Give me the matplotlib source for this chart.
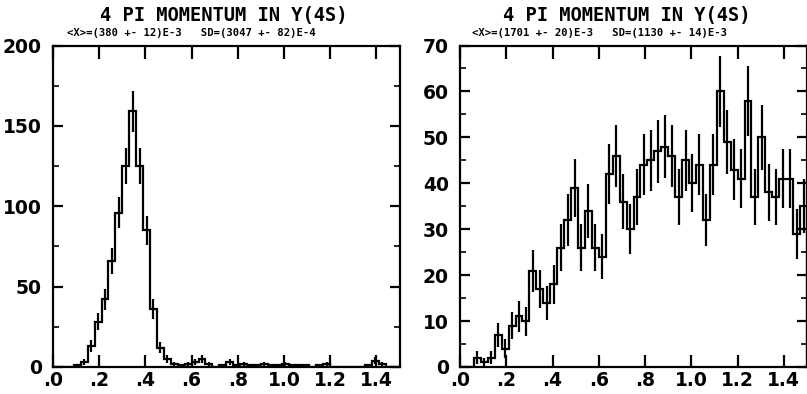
import numpy as np
import matplotlib
matplotlib.use("Agg")
import matplotlib.pyplot as plt
from matplotlib.ticker import MultipleLocator, FixedLocator

# ---------------- data ----------------
bin_edges = np.round(np.arange(0, 1.5001, 0.03), 3)

left_counts = [0, 0, 0, 1, 3, 13, 28, 42, 66, 96,
               125, 159, 125, 85, 36, 12, 5, 2, 1, 2,
               3, 5, 2, 0, 1, 3, 1, 2, 1, 1,
               2, 1, 1, 2, 1, 1, 1, 0, 1, 2,
               0, 0, 0, 0, 0, 1, 4, 2, 0, 0]

right_counts = [0, 0, 2, 1, 2, 7, 4, 9, 11, 10,
                21, 17, 14, 18, 26, 32, 39, 26, 34, 26,
                24, 42, 46, 36, 30, 37, 44, 45, 47, 48,
                46, 37, 45, 40, 44, 32, 44, 60, 49, 43,
                41, 58, 37, 50, 38, 37, 41, 41, 29, 35]

title_text = "4 PI MOMENTUM IN Y(4S)"
left_stats = "<X>=(380 +- 12)E-3   SD=(3047 +- 82)E-4"
right_stats = "<X>=(1701 +- 20)E-3   SD=(1130 +- 14)E-3"

xtick_vals = [0.0, 0.2, 0.4, 0.6, 0.8, 1.0, 1.2, 1.4]
xtick_labels = [".0", ".2", ".4", ".6", ".8", "1.0", "1.2", "1.4"]
left_yticks = [0, 50, 100, 150, 200]
right_yticks = [0, 10, 20, 30, 40, 50, 60, 70]

# ---------------- figure ----------------
W, H = 807, 394
fig = plt.figure(figsize=(W / 100, H / 100), dpi=100)
fig.patch.set_facecolor("white")


def px_axes(x0, x1, y0, y1):
    return fig.add_axes([x0 / W, 1 - y1 / H, (x1 - x0) / W, (y1 - y0) / H])


axL = px_axes(53, 399.5, 45.5, 367)
axR = px_axes(460, 807, 45.5, 367)

lw = 1.6
for ax, counts, ymax, yticks, yminor in (
    (axL, left_counts, 200, left_yticks, 25),
    (axR, right_counts, 70, right_yticks, 5),
):
    c = np.array(counts, dtype=float)
    centers = 0.5 * (bin_edges[:-1] + bin_edges[1:])
    ax.stairs(c, bin_edges, color="black", linewidth=1.6, baseline=0)
    m = c > 0
    ax.errorbar(centers[m], c[m], yerr=np.sqrt(c[m]), fmt="none",
                ecolor="black", elinewidth=1.6, capsize=0)
    ax.set_xlim(0, 1.5)
    ax.set_ylim(0, ymax)
    ax.xaxis.set_major_locator(FixedLocator(xtick_vals))
    ax.set_xticklabels(xtick_labels)
    ax.yaxis.set_major_locator(FixedLocator(yticks))
    ax.yaxis.set_minor_locator(MultipleLocator(yminor))
    ax.tick_params(axis="x", which="major", direction="in", length=9, width=1.6,
                   top=True, labelsize=13.5, pad=3)
    ax.tick_params(axis="y", which="major", direction="in", length=7, width=1.6,
                   right=True, labelsize=13.5, pad=8)
    ax.tick_params(which="minor", direction="in", length=4, width=1.2,
                   left=True, right=True)
    for lab in ax.get_xticklabels() + ax.get_yticklabels():
        lab.set_fontweight("bold")
        lab.set_family("DejaVu Sans")
    for s in ax.spines.values():
        s.set_linewidth(lw)
    ax.set_facecolor("white")

# titles
fig.text(224 / W, 1 - 15 / H, title_text, ha="center", va="center",
         fontsize=13.5, fontweight="bold", family="DejaVu Sans Mono")
fig.text(627 / W, 1 - 15 / H, title_text, ha="center", va="center",
         fontsize=13.5, fontweight="bold", family="DejaVu Sans Mono")
fig.text(191 / W, 1 - 33 / H, left_stats, ha="center", va="center",
         fontsize=7.6, fontweight="bold", family="DejaVu Sans Mono")
fig.text(599 / W, 1 - 33 / H, right_stats, ha="center", va="center",
         fontsize=7.6, fontweight="bold", family="DejaVu Sans Mono")

fig.savefig("out.png", dpi=100, facecolor="white")
